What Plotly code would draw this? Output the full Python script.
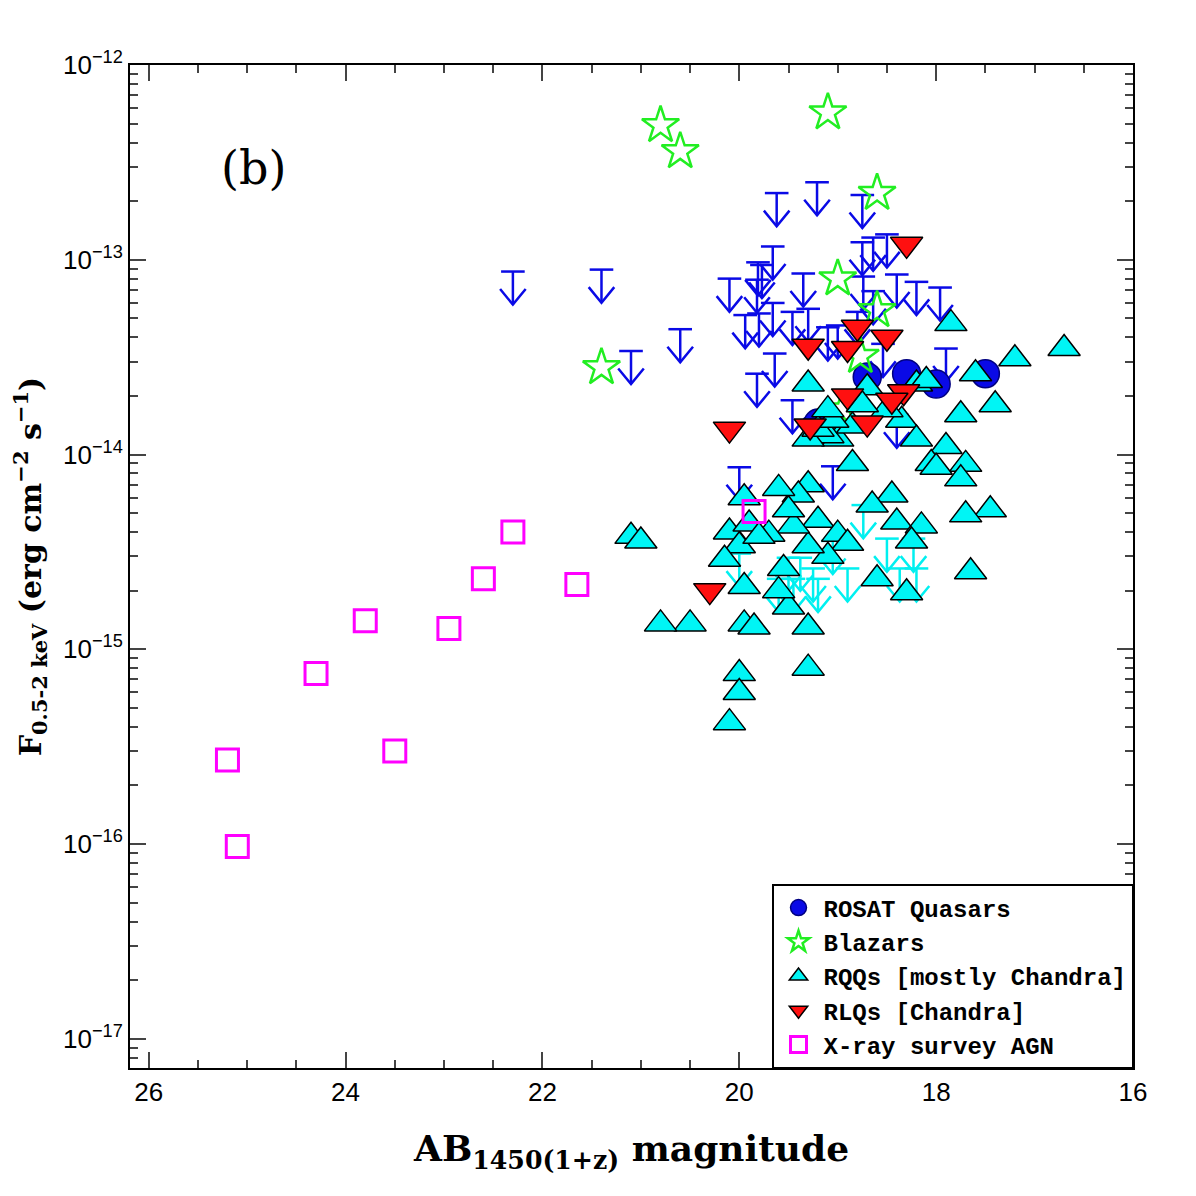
import plotly.graph_objects as go
import numpy as np

rosat_mag = [19.2, 18.7, 18.3, 18.0, 17.5]
rosat_flux = [1.45e-14, 2.5e-14, 2.6e-14, 2.3e-14, 2.6e-14]

blazar_mag = [20.8, 20.6, 19.1, 18.6, 21.4, 19.0, 18.6, 18.77, 18.95]
blazar_flux = [4.9e-13, 3.6e-13, 5.7e-13, 2.2e-13, 2.8e-14, 8.0e-14, 5.5e-14, 3.2e-14, 1.7e-14]

rlq_mag = [18.3, 18.8, 18.5, 19.3, 18.9, 18.33, 18.9, 18.45, 18.7, 20.1, 19.28, 20.3]
rlq_flux = [1.2e-13, 4.5e-14, 4.0e-14, 3.6e-14, 3.5e-14, 2.1e-14, 2.0e-14, 1.9e-14, 1.45e-14, 1.35e-14, 1.4e-14, 2.0e-15]

rqq_mag = [16.7, 17.2, 17.6, 17.4, 17.85, 17.75, 17.9, 18.05, 17.7, 17.75, 17.45, 17.7, 17.65,
           18.2, 18.35, 18.2, 18.0, 18.45, 18.4, 18.15, 18.25, 18.3, 18.6, 18.65, 18.85, 19.0,
           19.1, 19.3, 19.3, 19.2, 19.0, 18.9, 19.1, 19.3, 19.45, 19.4, 19.5, 19.6, 19.7, 19.55,
           19.5, 19.3, 19.3, 19.6, 19.95, 19.95, 20.0, 20.0, 20.1, 19.85, 20.5, 20.8, 21.1, 21.0,
           20.1, 20.0, 19.95, 19.9, 19.8, 20.15, 19.3, 19.2, 18.85, 19.05, 18.7, 18.5, 18.75, 19.1, 18.1]
rqq_flux = [3.5e-14, 3.1e-14, 2.6e-14, 1.8e-14, 4.7e-14, 1.6e-14, 1.1e-14, 9e-15, 8.9e-15, 7.5e-15,
            5.2e-15, 4.9e-15, 2.5e-15, 2.3e-14, 1.5e-14, 1.2e-14, 8.6e-15, 6.2e-15, 4.5e-15, 4.3e-15,
            3.6e-15, 1.95e-15, 2.3e-15, 5.5e-15, 9e-15, 1.2e-14, 1.25e-14, 2.3e-14, 7e-15, 4.6e-15,
            3.9e-15, 3.5e-15, 3e-15, 3.4e-15, 4.3e-15, 6.2e-15, 5.2e-15, 6.7e-15, 3.9e-15, 2.6e-15,
            1.65e-15, 1.3e-15, 8e-16, 2e-15, 2.1e-15, 1.35e-15, 7.5e-16, 6e-16, 4.2e-16, 1.3e-15,
            1.35e-15, 1.35e-15, 3.8e-15, 3.6e-15, 4e-15, 3.4e-15, 6e-15, 4.4e-15, 3.8e-15, 2.9e-15,
            1.2e-14, 1.35e-14, 1.4e-14, 1.5e-14, 2.2e-14, 1.7e-14, 1.8e-14, 1.7e-14, 2.4e-14]

survey_mag = [25.2, 25.1, 24.3, 23.5, 23.8, 22.95, 22.6, 22.3, 21.65, 19.85]
survey_flux = [2.7e-16, 9.7e-17, 7.5e-16, 3.0e-16, 1.4e-15, 1.28e-15, 2.3e-15, 4.0e-15, 2.15e-15, 5.1e-15]

ul_blue_mag = [22.3, 21.4, 20.6, 21.1, 19.62, 19.21, 18.75, 20.1, 19.66, 19.81, 19.77, 19.35, 18.75,
               18.64, 18.5, 18.74, 18.4, 18.2, 17.96, 19.82, 18.64, 19.94, 19.8, 19.66, 19.46, 19.3,
               19.1, 19.64, 19.82, 18.8, 17.9, 19.46, 19.0, 18.54, 20.0, 19.05, 18.4]
ul_blue_flux = [8.7e-14, 8.9e-14, 4.4e-14, 3.4e-14, 2.2e-13, 2.5e-13, 2.15e-13, 8e-14, 1.17e-13,
                9.7e-14, 9.4e-14, 8.5e-14, 1.23e-13, 1.3e-13, 1.35e-13, 8.2e-14, 8.4e-14, 7.7e-14,
                7.2e-14, 7.9e-14, 6.9e-14, 5.2e-14, 5.3e-14, 6e-14, 5.4e-14, 5.6e-14, 4.5e-14, 3.3e-14,
                2.6e-14, 5.4e-14, 3.5e-14, 1.9e-14, 4.6e-14, 3.7e-14, 8.6e-15, 8.7e-15, 1.6e-14]

ul_cyan_mag = [18.74, 18.5, 18.23, 18.2, 18.37, 19.38, 19.25, 19.05, 18.9, 19.5, 19.6, 19.45, 20.0, 19.2]
ul_cyan_flux = [5.5e-15, 3.7e-15, 3.7e-15, 2.6e-15, 2.6e-15, 2.95e-15, 2.6e-15, 3.6e-15, 2.6e-15,
                2.95e-15, 2.3e-15, 2.3e-15, 3.1e-15, 2.3e-15]


def arrow_paths(mags, fluxes):
    xs, ys = [], []
    for m, f in zip(mags, fluxes):
        tip = f / 10 ** 0.17
        head = tip * 10 ** 0.08
        xs += [m - 0.12, m + 0.12, None, m, m, None, m - 0.13, m, m + 0.13, None]
        ys += [f, f, None, f, tip, None, head, tip, head, None]
    return xs, ys


fig = go.Figure()

for mags, fluxes, col in [(ul_blue_mag, ul_blue_flux, "#0a0ae6"), (ul_cyan_mag, ul_cyan_flux, "#00f0f0")]:
    ax, ay = arrow_paths(mags, fluxes)
    fig.add_trace(go.Scatter(x=ax, y=ay, mode="lines", line=dict(color=col, width=2.5),
                             showlegend=False, hoverinfo="skip"))

fig.add_trace(go.Scatter(x=rosat_mag, y=rosat_flux, mode="markers", name="ROSAT Quasars",
                         marker=dict(symbol="circle", size=28, color="#0a0ae6",
                                     line=dict(color="#000080", width=1.5))))
fig.add_trace(go.Scatter(x=blazar_mag, y=blazar_flux, mode="markers", name="Blazars",
                         marker=dict(symbol="star-open", size=28, color="#22ee22",
                                     line=dict(color="#22ee22", width=2.5))))
fig.add_trace(go.Scatter(x=rqq_mag, y=rqq_flux, mode="markers", name="RQQs [mostly Chandra]",
                         marker=dict(symbol="triangle-up", size=28, color="#00f5f5",
                                     line=dict(color="black", width=1.5))))
fig.add_trace(go.Scatter(x=rlq_mag, y=rlq_flux, mode="markers", name="RLQs [Chandra]",
                         marker=dict(symbol="triangle-down", size=28, color="#ff1010",
                                     line=dict(color="black", width=1.5))))
fig.add_trace(go.Scatter(x=survey_mag, y=survey_flux, mode="markers", name="X-ray survey AGN",
                         marker=dict(symbol="square-open", size=22, color="#ff00ff",
                                     line=dict(color="#ff00ff", width=3))))

decades = list(range(-17, -11))
tickvals = [10.0 ** d for d in decades]
ticktext = ["10<sup>\u2212%d</sup>" % (-d) for d in decades]
minor_y = [k * 10.0 ** d for d in range(-18, -12) for k in range(2, 10)]

axfont = dict(family="Liberation Sans", size=26, color="black")
fig.update_layout(
    width=1196, height=1196, plot_bgcolor="white", paper_bgcolor="white",
    margin=dict(l=122, r=71, t=57, b=136),
    xaxis=dict(range=[26.19, 16.0], tickvals=[26, 24, 22, 20, 18, 16], ticks="inside", ticklen=16,
               tickwidth=2, showline=True, linewidth=2, linecolor="black", mirror="allticks",
               showgrid=False, zeroline=False, tickfont=axfont,
               minor=dict(dtick=0.5, ticks="inside", ticklen=8, tickwidth=1.5, showgrid=False),
               title=dict(text="<b>AB<sub>1450(1+z)</sub> magnitude</b>", standoff=30,
                          font=dict(family="DejaVu Serif", size=36, color="black"))),
    yaxis=dict(type="log", range=[-17.15, -12], tickvals=tickvals, ticktext=ticktext, ticks="inside",
               ticklen=16, tickwidth=2, showline=True, linewidth=2, linecolor="black", mirror="allticks",
               showgrid=False, zeroline=False, tickfont=axfont,
               minor=dict(tickvals=minor_y, ticks="inside", ticklen=8, tickwidth=1.5, showgrid=False),
               title=dict(text="<b>F<sub>0.5-2 keV</sub> (erg cm<sup>\u22122</sup> s<sup>\u22121</sup>)</b>",
                          standoff=18, font=dict(family="DejaVu Serif", size=30, color="black"))),
    legend=dict(x=1.0, y=0.0, xanchor="right", yanchor="bottom", bgcolor="white",
                bordercolor="black", borderwidth=1.5,
                font=dict(family="Liberation Mono", size=24, color="black", weight="bold"),
                itemsizing="trace", tracegroupgap=6, itemwidth=40),
    annotations=[dict(x=0.123, y=0.897, xref="paper", yref="paper", text="(b)", showarrow=False,
                      xanchor="center", yanchor="middle",
                      font=dict(family="DejaVu Serif", size=46, color="black"))],
)

fig.write_html("out.html")
